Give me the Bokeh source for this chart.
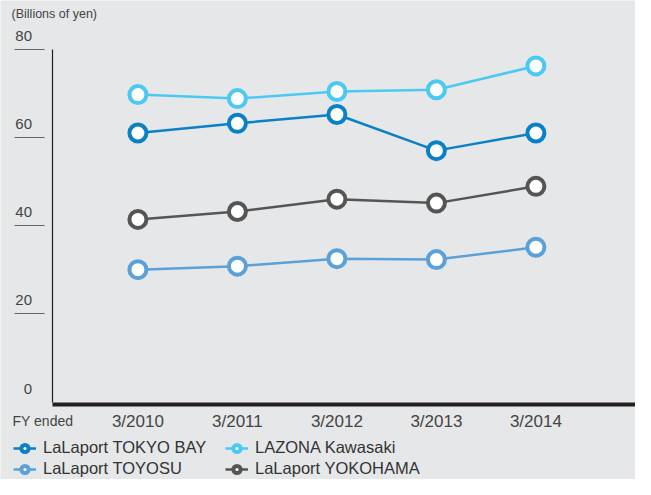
from bokeh.plotting import figure
from bokeh.models import (LinearAxis, FixedTicker, Range1d, Legend, LegendItem, Label,
                          ColumnDataSource)
from bokeh.embed import file_html
from bokeh.resources import INLINE

# ---- data ----
years = ["3/2010", "3/2011", "3/2012", "3/2013", "3/2014"]
tokyo_bay = [61.0, 63.2, 65.2, 57.0, 61.0]
lazona = [69.7, 68.8, 70.4, 70.8, 76.2]
toyosu = [30.0, 30.8, 32.5, 32.3, 35.1]
yokohama = [41.4, 43.2, 46.0, 45.1, 48.9]
y_ticks = [0, 20, 40, 60, 80]
unit_label = "(Billions of yen)"
x_caption = "FY ended"

series = [
    ("LaLaport TOKYO BAY", tokyo_bay, "#0a80c6"),
    ("LAZONA Kawasaki", lazona, "#4cc9f3"),
    ("LaLaport TOYOSU", toyosu, "#5aa0d9"),
    ("LaLaport YOKOHAMA", yokohama, "#555555"),
]

BG = "#e6e7e8"
FONT = "Liberation Sans"

p = figure(width=635, height=479, output_backend="svg", toolbar_location=None,
           x_axis_location=None, y_axis_location=None, title=None,
           x_range=Range1d(-1.381, 5.001), y_range=Range1d(-17.57, 91.04),
           min_border=0, min_border_left=0, min_border_right=0,
           min_border_top=0, min_border_bottom=0)
p.background_fill_color = BG
p.border_fill_color = BG
p.outline_line_color = None
p.grid.grid_line_color = None

xs = list(range(len(years)))
items = []
for name, vals, col in series:
    src = ColumnDataSource(dict(x=xs, y=vals))
    lr = p.line("x", "y", source=src, line_color=col, line_width=2.5)
    sr = p.scatter("x", "y", source=src, size=17, fill_color="white",
                   line_color=col, line_width=4)
    items.append(LegendItem(label=name, renderers=[lr, sr]))

# y axis line + tick marks
yaxis = LinearAxis(fixed_location=-0.855, bounds=(0, 80),
                   ticker=FixedTicker(ticks=[t for t in y_ticks if t > 0]),
                   axis_line_color="#231f20", axis_line_width=1.2,
                   major_tick_line_color="#666666", major_tick_line_width=1,
                   major_tick_in=-8, major_tick_out=38,
                   minor_tick_line_color=None,
                   major_label_text_alpha=0)
p.add_layout(yaxis, "left")

# y axis labels (sit above the tick marks)
off = 3.05
ylab = LinearAxis(fixed_location=-1.064,
                  ticker=FixedTicker(ticks=[t + off for t in y_ticks]),
                  major_label_overrides={t + off: str(t) for t in y_ticks},
                  axis_line_color=None, major_tick_line_color=None,
                  minor_tick_line_color=None, major_tick_in=0, major_tick_out=0,
                  major_label_standoff=0,
                  major_label_text_font=FONT, major_label_text_font_size="15px",
                  major_label_text_color="#444444")
p.add_layout(ylab, "left")

# x axis line
xaxis = LinearAxis(fixed_location=-0.6, bounds=(-0.855, 5.1),
                   ticker=FixedTicker(ticks=[]),
                   axis_line_color="#231f20", axis_line_width=4,
                   major_tick_line_color=None, minor_tick_line_color=None)
p.add_layout(xaxis, "below")

# x axis category labels
xlab = LinearAxis(fixed_location=0,
                  ticker=FixedTicker(ticks=xs),
                  major_label_overrides={x: s for x, s in zip(xs, years)},
                  axis_line_color=None, major_tick_line_color=None,
                  minor_tick_line_color=None, major_tick_in=0, major_tick_out=0,
                  major_label_standoff=10,
                  major_label_text_font=FONT, major_label_text_font_size="17px",
                  major_label_text_color="#444444")
p.add_layout(xlab, "below")

# "FY ended" caption on the category axis row
fy = -0.955
xcap = LinearAxis(fixed_location=0,
                  ticker=FixedTicker(ticks=[fy]),
                  major_label_overrides={fy: x_caption},
                  axis_line_color=None, major_tick_line_color=None,
                  minor_tick_line_color=None, major_tick_in=0, major_tick_out=0,
                  major_label_standoff=11,
                  major_label_text_font=FONT, major_label_text_font_size="14px",
                  major_label_text_color="#444444")
p.add_layout(xcap, "below")

# unit label
p.add_layout(Label(x=-1.27, y=87.9, text=unit_label, text_font=FONT,
                   text_font_size="12.5px", text_color="#444444",
                   text_baseline="middle", text_align="left"))

legend = Legend(items=items, orientation="horizontal", ncols=2,
                location=(13, 1), padding=0, margin=0, spacing=2,
                glyph_width=23, glyph_height=18, label_standoff=7,
                label_width=180, label_height=18,
                label_text_font=FONT, label_text_font_size="16.5px",
                label_text_color="#333333",
                border_line_color=None, background_fill_alpha=0)
p.add_layout(legend, "center")

open("out.html", "w").write(file_html(p, INLINE))
